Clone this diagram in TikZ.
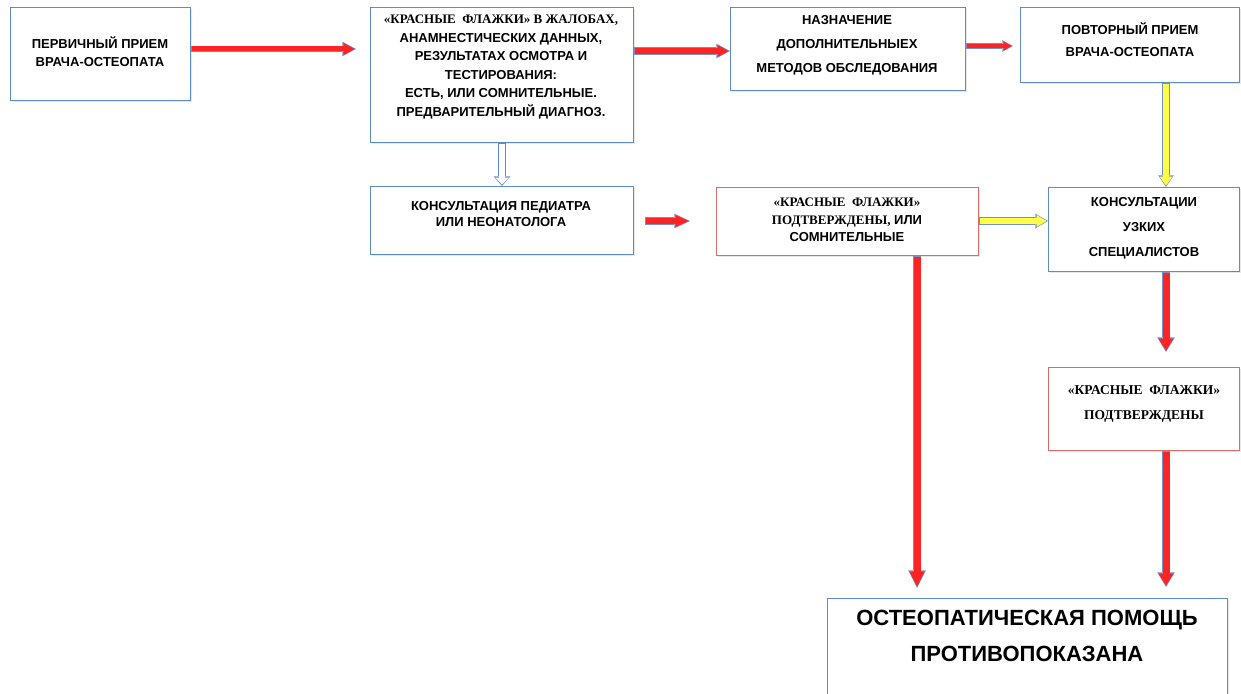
\documentclass[tikz,border=0pt]{standalone}
\usepackage{fontspec}
\setmainfont{Liberation Serif}
\setsansfont{Liberation Sans}
\usetikzlibrary{arrows.meta,shadows}
\definecolor{bxblue}{RGB}{95,140,195}
\definecolor{bxred}{RGB}{212,110,106}
\definecolor{aout}{RGB}{115,145,200}
\definecolor{ared}{RGB}{255,36,36}
\definecolor{ayel}{RGB}{255,255,70}
% #1 outline, #2 fill, #3 shaft, #4 head width, #5 head length, #6 from, #7 to
\newcommand\blk[7]{%
  \pgfmathsetmacro\blkow{#3+1.6}%
  \pgfmathsetmacro\blkhw{#4+2.6}%
  \pgfmathsetmacro\blkhl{#5+2.6}%
  \draw[draw=#1, line width=\blkow pt, -{Triangle[width=\blkhw pt, length=\blkhl pt, line width=0pt]}] #6 -- #7;
  \draw[draw=#2, line width=#3pt, shorten <=0.8pt, shorten >=1.5pt, -{Triangle[width=#4pt, length=#5pt, line width=0pt]}] #6 -- #7;
}
\begin{document}
\begin{tikzpicture}[x=1pt,y=-1pt,
  box/.style={draw=bxblue, line width=1.2pt, fill=white, inner sep=0, anchor=north west,
    drop shadow={opacity=0.18, shadow xshift=1pt, shadow yshift=-1.5pt}},
  rbox/.style={box, draw=bxred},
  txt/.style={align=center, inner sep=0, font=\sffamily\bfseries\fontsize{13}{#1}\selectfont},
  bigtxt/.style={align=center, inner sep=0, font=\sffamily\bfseries\fontsize{22}{36}\selectfont}]
\useasboundingbox (0,0) rectangle (1241,693);
\fill[white] (0,0) rectangle (1241,693);

% boxes
\node[box, minimum width=180pt, minimum height=93pt] (b1) at (10,7) {};
\node[box, minimum width=263pt, minimum height=135pt] (b2) at (370,7) {};
\node[box, minimum width=235pt, minimum height=83pt] (b3) at (730,7) {};
\node[box, minimum width=219pt, minimum height=75pt] (b4) at (1020,7) {};
\node[box, minimum width=263pt, minimum height=68pt] (b5) at (370,186) {};
\node[rbox, minimum width=262pt, minimum height=68pt] (b6) at (716,187) {};
\node[box, minimum width=191pt, minimum height=84pt] (b7) at (1048,187) {};
\node[rbox, minimum width=191pt, minimum height=83pt] (b8) at (1048,367) {};
\node[box, minimum width=400pt, minimum height=112pt] (b9) at (827,598) {};

% texts
\node[txt=18] (t1) at (100,52) {ПЕРВИЧНЫЙ ПРИЕМ\\ВРАЧА-ОСТЕОПАТА};
\node[txt=18.5] (t2) at (501,67) {{\rmfamily «КРАСНЫЕ\ \ ФЛАЖКИ» В ЖАЛОБАХ,}\\АНАМНЕСТИЧЕСКИХ ДАННЫХ,\\РЕЗУЛЬТАТАХ ОСМОТРА И\\ТЕСТИРОВАНИЯ:\\ЕСТЬ, ИЛИ СОМНИТЕЛЬНЫЕ.\\ПРЕДВАРИТЕЛЬНЫЙ ДИАГНОЗ.};
\node[txt=24] (t3) at (847,45) {НАЗНАЧЕНИЕ\\ДОПОЛНИТЕЛЬНЫЕХ\\МЕТОДОВ ОБСЛЕДОВАНИЯ};
\node[txt=22] (t4) at (1130,40) {ПОВТОРНЫЙ ПРИЕМ\\ВРАЧА-ОСТЕОПАТА};
\node[txt=16] (t5) at (501,214) {КОНСУЛЬТАЦИЯ ПЕДИАТРА\\ИЛИ НЕОНАТОЛОГА};
\node[txt=17.5] (t6) at (847,220) {{\rmfamily «КРАСНЫЕ\ \ ФЛАЖКИ»}\\{\rmfamily ПОДТВЕРЖДЕНЫ,} ИЛИ\\СОМНИТЕЛЬНЫЕ};
\node[txt=25] (t7) at (1144,228) {КОНСУЛЬТАЦИИ\\УЗКИХ\\СПЕЦИАЛИСТОВ};
\node[txt=25.5, font=\rmfamily\bfseries\fontsize{13.5}{25.5}\selectfont] (t8) at (1144,404) {«КРАСНЫЕ\ \ ФЛАЖКИ»\\ПОДТВЕРЖДЕНЫ};
\node[bigtxt] (t9) at (1027,636) {ОСТЕОПАТИЧЕСКАЯ ПОМОЩЬ\\ПРОТИВОПОКАЗАНА};

% free ends
\coordinate (e1) at (356,49);
\coordinate (e3) at (1013,46);
\coordinate (s6) at (645,221);
\coordinate (e6) at (690,221);
\coordinate (e8) at (917,588);
\coordinate (e9) at (1166,352);
\coordinate (e10) at (1166,587);

% arrows
\blk{aout}{ared}{5}{12}{11}{(b1.east |- e1)}{(e1)}
\blk{aout}{ared}{6}{12}{11}{(b2.east |- 0,51)}{(b3.west |- 0,51)}
\blk{aout}{ared}{4}{9}{8}{(b3.east |- e3)}{(e3)}
\blk{aout}{ayel}{6}{13}{9}{(b4.south -| 1166,0)}{(b7.north -| 1166,0)}
\blk{bxblue}{white}{6}{14}{7}{(b2.south -| 502,0)}{(b5.north -| 502,0)}
\blk{aout}{ared}{6}{12}{13}{(s6)}{(e6)}
\blk{aout}{ayel}{6}{12}{10}{(b6.east |- 0,221)}{(b7.west |- 0,221)}
\blk{aout}{ared}{7}{15}{15}{(b6.south -| e8)}{(e8)}
\blk{aout}{ared}{7}{15}{12}{(b7.south -| e9)}{(e9)}
\blk{aout}{ared}{7}{15}{12}{(b8.south -| e10)}{(e10)}
\end{tikzpicture}
\end{document}
